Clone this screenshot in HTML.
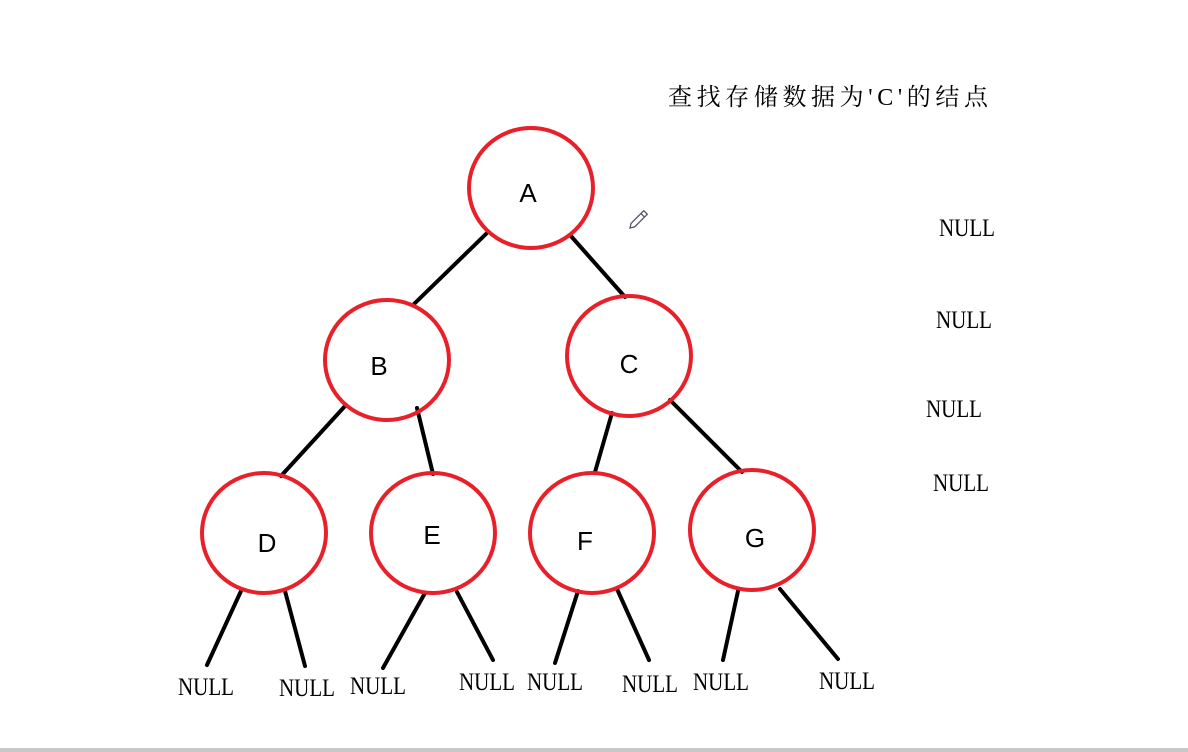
<!DOCTYPE html>
<html><head><meta charset="utf-8"><style>
html,body{margin:0;padding:0;background:#fff;width:1188px;height:752px;overflow:hidden}
</style></head><body>
<svg width="1188" height="752" viewBox="0 0 1188 752" xmlns="http://www.w3.org/2000/svg">
<rect x="0" y="748" width="1188" height="4" fill="#c8c8c8"/>
<text x="668" y="105" font-family="'Liberation Serif','Noto Serif CJK SC',serif" font-size="24" textLength="320" fill="#000">查找存储数据为'C'的结点</text>
<g stroke="#000" stroke-width="4" stroke-linecap="round">
<line x1="488" y1="232" x2="413" y2="305"/><line x1="570" y1="235" x2="625" y2="297"/>
<line x1="346" y1="405" x2="281" y2="476"/><line x1="417" y1="408" x2="433" y2="474"/>
<line x1="612" y1="413" x2="595" y2="472"/><line x1="670" y1="400" x2="742" y2="472"/>
<line x1="241" y1="591" x2="207" y2="665"/><line x1="285" y1="591" x2="305" y2="666"/>
<line x1="425" y1="593" x2="383" y2="668"/><line x1="457" y1="592" x2="493" y2="660"/>
<line x1="578" y1="591" x2="555" y2="663"/><line x1="617" y1="589" x2="649" y2="660"/>
<line x1="738" y1="591" x2="723" y2="660"/><line x1="780" y1="589" x2="838" y2="659"/>
</g>
<g fill="none" stroke="#e8202a" stroke-width="4">
<ellipse cx="531" cy="188" rx="62" ry="60"/>
<ellipse cx="387" cy="360" rx="62" ry="60"/>
<ellipse cx="629" cy="356" rx="62" ry="60"/>
<ellipse cx="264" cy="533" rx="62" ry="60"/>
<ellipse cx="433" cy="533" rx="62" ry="60"/>
<ellipse cx="592" cy="533" rx="62" ry="60"/>
<ellipse cx="752" cy="530" rx="62" ry="60"/>
</g>
<g font-family="'Liberation Sans',sans-serif" font-size="26" fill="#000" text-anchor="middle">
<text x="528" y="202">A</text><text x="379" y="375">B</text><text x="629" y="373">C</text>
<text x="267" y="552">D</text><text x="432" y="544">E</text><text x="585" y="550">F</text><text x="755" y="547">G</text>
</g>
<g font-family="'Liberation Serif',serif" font-size="25" fill="#000">
<text x="178" y="695" textLength="56" lengthAdjust="spacingAndGlyphs">NULL</text>
<text x="279" y="696" textLength="56" lengthAdjust="spacingAndGlyphs">NULL</text>
<text x="350" y="694" textLength="56" lengthAdjust="spacingAndGlyphs">NULL</text>
<text x="459" y="690" textLength="56" lengthAdjust="spacingAndGlyphs">NULL</text>
<text x="527" y="690" textLength="56" lengthAdjust="spacingAndGlyphs">NULL</text>
<text x="622" y="692" textLength="56" lengthAdjust="spacingAndGlyphs">NULL</text>
<text x="693" y="690" textLength="56" lengthAdjust="spacingAndGlyphs">NULL</text>
<text x="819" y="689" textLength="56" lengthAdjust="spacingAndGlyphs">NULL</text>
<text x="939" y="236" textLength="56" lengthAdjust="spacingAndGlyphs">NULL</text>
<text x="936" y="328" textLength="56" lengthAdjust="spacingAndGlyphs">NULL</text>
<text x="926" y="417" textLength="56" lengthAdjust="spacingAndGlyphs">NULL</text>
<text x="933" y="491" textLength="56" lengthAdjust="spacingAndGlyphs">NULL</text>
</g>
<g transform="translate(630,228) rotate(-45)" fill="none" stroke="#556" stroke-width="1.3">
<path d="M0 0 L4 -2.5 L22 -2.5 L22 2.5 L4 2.5 Z"/><line x1="18" y1="-2.5" x2="18" y2="2.5"/>
</g>
</svg>
</body></html>
